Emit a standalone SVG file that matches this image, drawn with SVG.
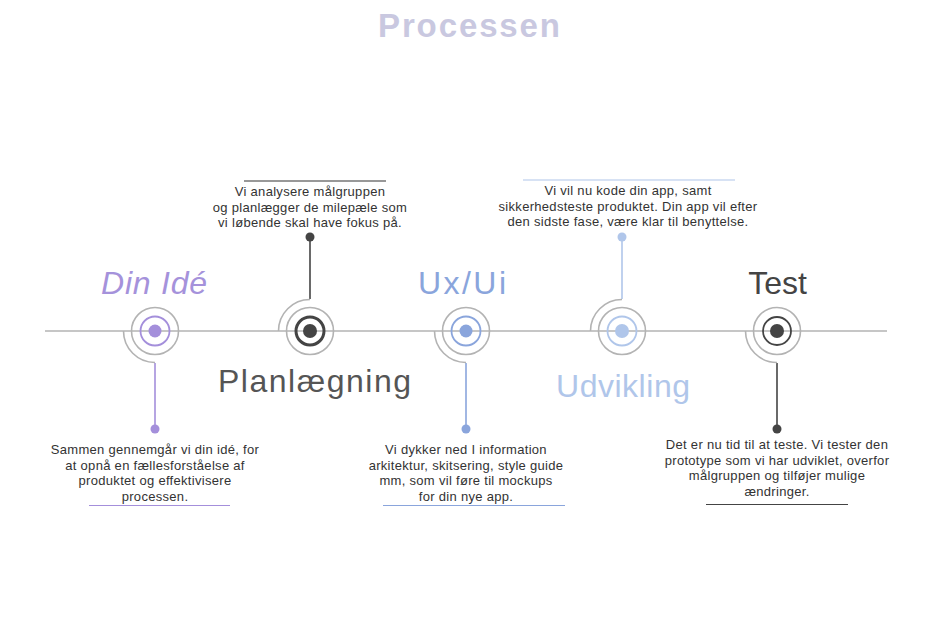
<svg xmlns="http://www.w3.org/2000/svg" width="930" height="620" viewBox="0 0 930 620">
<style>
.ring{fill:none;stroke:#b3b3b3;stroke-width:1.6}
.desc{font-family:"Liberation Sans",Arial,sans-serif;font-size:13px;letter-spacing:0.3px;fill:#333;text-anchor:middle}
.ttl{font-family:"Liberation Sans",Arial,sans-serif;font-size:32px;text-anchor:middle}
</style>
<rect width="930" height="620" fill="#fff"/>
<text x="469" y="37" font-family="Liberation Sans,Arial,sans-serif" font-weight="bold" font-size="33" fill="#c9c8e0" text-anchor="middle" textLength="182">Processen</text>
<g id="connectors">
<line x1="45" y1="331" x2="887" y2="331" stroke="#b3b3b3" stroke-width="1.6"/>
<line x1="155" y1="363" x2="155" y2="429" stroke="#a48fdb" stroke-width="1.6"/>
<line x1="310" y1="299" x2="310" y2="237" stroke="#444" stroke-width="1.6"/>
<line x1="466" y1="363" x2="466" y2="429" stroke="#8aa5dc" stroke-width="1.6"/>
<line x1="622" y1="299" x2="622" y2="237" stroke="#b0c6ea" stroke-width="1.6"/>
<line x1="777" y1="363" x2="777" y2="429" stroke="#444" stroke-width="1.6"/>
</g>
<g id="node-din-ide">
<circle class="ring" cx="155" cy="331" r="23.5"/>
<path class="ring" d="M123.5 331 A31.5 31.5 0 0 0 155 362.5"/>
<circle cx="155" cy="331" r="14.5" fill="none" stroke="#a48fdb" stroke-width="1.8"/>
<circle cx="155" cy="331" r="6.5" fill="#a48fdb"/>
<circle cx="155" cy="429" r="4.5" fill="#a48fdb"/>
<text class="ttl" x="154" y="294" fill="#a592db" font-style="italic" textLength="106">Din Idé</text>
<text class="desc"><tspan x="155" y="454">Sammen gennemgår vi din idé, for</tspan><tspan x="155" y="469.5">at opnå en fællesforståelse af</tspan><tspan x="155" y="485">produktet og effektivisere</tspan><tspan x="155" y="500.5">processen.</tspan></text>
<line x1="89" y1="505.5" x2="230" y2="505.5" stroke="#a48fdb" stroke-width="1.2"/>
</g>
<g id="node-planlaegning">
<circle class="ring" cx="310" cy="331" r="23.5"/>
<path class="ring" d="M278.5 331 A31.5 31.5 0 0 1 310 299.5"/>
<circle cx="310" cy="331" r="14" fill="none" stroke="#444" stroke-width="3"/>
<circle cx="310" cy="331" r="7" fill="#444"/>
<circle cx="310" cy="237" r="4.5" fill="#444"/>
<text class="ttl" x="314.5" y="392" fill="#555" textLength="193">Planlægning</text>
<line x1="244" y1="181" x2="386" y2="181" stroke="#333" stroke-width="1.2"/>
<text class="desc"><tspan x="310" y="196">Vi analysere målgruppen</tspan><tspan x="310" y="211.5">og planlægger de milepæle som</tspan><tspan x="310" y="227">vi løbende skal have fokus på.</tspan></text>
</g>
<g id="node-ux-ui">
<circle class="ring" cx="466" cy="331" r="23.5"/>
<path class="ring" d="M434.5 331 A31.5 31.5 0 0 0 466 362.5"/>
<circle cx="466" cy="331" r="14.5" fill="none" stroke="#8aa5dc" stroke-width="1.8"/>
<circle cx="466" cy="331" r="6.5" fill="#8aa5dc"/>
<circle cx="466" cy="429" r="4.5" fill="#8aa5dc"/>
<text class="ttl" x="462" y="294" fill="#8aa5dc" textLength="88">Ux/Ui</text>
<text class="desc"><tspan x="466" y="454">Vi dykker ned I information</tspan><tspan x="466" y="469.5">arkitektur, skitsering, style guide</tspan><tspan x="466" y="485">mm, som vil føre til mockups</tspan><tspan x="466" y="500.5">for din nye app.</tspan></text>
<line x1="383" y1="505.5" x2="565" y2="505.5" stroke="#8aa5dc" stroke-width="1.2"/>
</g>
<g id="node-udvikling">
<circle class="ring" cx="622" cy="331" r="23.5"/>
<path class="ring" d="M590.5 331 A31.5 31.5 0 0 1 622 299.5"/>
<circle cx="622" cy="331" r="14.5" fill="none" stroke="#b0c6ea" stroke-width="1.8"/>
<circle cx="622" cy="331" r="7" fill="#b0c6ea"/>
<circle cx="622" cy="237" r="4.5" fill="#b0c6ea"/>
<text class="ttl" x="623" y="397" fill="#b0c6ea" textLength="134">Udvikling</text>
<line x1="523" y1="180" x2="735" y2="180" stroke="#b0c6ea" stroke-width="1.2"/>
<text class="desc"><tspan x="628" y="195">Vi vil nu kode din app, samt</tspan><tspan x="628" y="210.5">sikkerhedsteste produktet. Din app vil efter</tspan><tspan x="628" y="226">den sidste fase, være klar til benyttelse.</tspan></text>
</g>
<g id="node-test">
<circle class="ring" cx="777" cy="331" r="23.5"/>
<path class="ring" d="M745.5 331 A31.5 31.5 0 0 0 777 362.5"/>
<circle cx="777" cy="331" r="14" fill="none" stroke="#444" stroke-width="1.8"/>
<circle cx="777" cy="331" r="7" fill="#444"/>
<circle cx="777" cy="429" r="4.5" fill="#444"/>
<text class="ttl" x="777.5" y="294" fill="#444">Test</text>
<text class="desc"><tspan x="777" y="449">Det er nu tid til at teste. Vi tester den</tspan><tspan x="777" y="464.5">prototype som vi har udviklet, overfor</tspan><tspan x="777" y="480">målgruppen og tilføjer mulige</tspan><tspan x="777" y="495.5">ændringer.</tspan></text>
<line x1="706" y1="504.5" x2="848" y2="504.5" stroke="#444" stroke-width="1.2"/>
</g>
</svg>
